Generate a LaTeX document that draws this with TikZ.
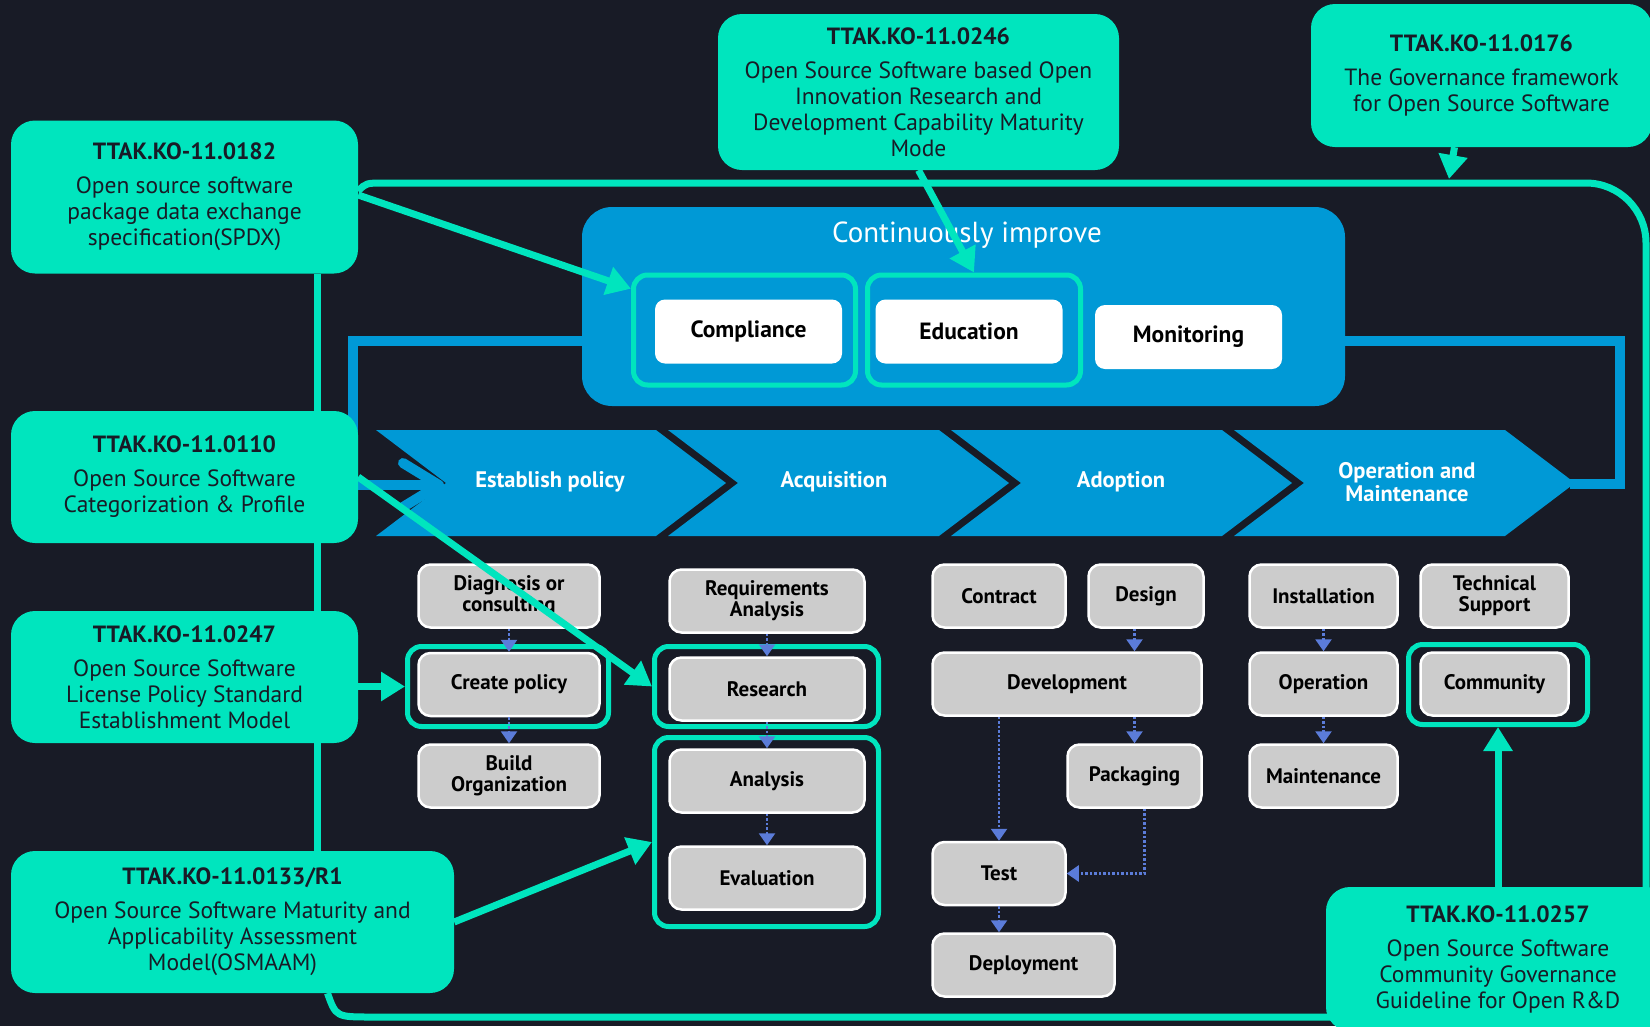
\documentclass[tikz,border=0pt]{standalone}
\usepackage{fontspec}
\setmainfont{PT Sans}
\usepackage{tikz}
\usetikzlibrary{arrows.meta}
\usetikzlibrary{calc}
\definecolor{night}{RGB}{24,27,38}
\definecolor{mint}{RGB}{0,229,190}
\definecolor{ocean}{RGB}{0,153,214}
\definecolor{stone}{RGB}{204,204,204}
\definecolor{dotblue}{RGB}{91,124,217}
\pgfdeclarelayer{back}
\pgfsetlayers{back,main}

\begin{document}
\begin{tikzpicture}[
	x=1pt, y=-1pt,
	standard/.style = {
		rectangle, rounded corners=24pt,
		fill=mint, text=night,
		align=center, inner sep=0pt,
		font=\fontsize{23.5}{26}\selectfont
	},
	task/.style = {
		rectangle, rounded corners=12pt,
		draw=white, line width=2.5pt, fill=stone,
		align=center, inner sep=0pt,
		minimum height=63pt,
		font=\fontsize{21}{21}\selectfont\bfseries
	},
	activity/.style = {
		rectangle, rounded corners=10pt,
		fill=white, inner sep=0pt,
		minimum width=187pt, minimum height=64pt,
		font=\fontsize{23.5}{26}\selectfont\bfseries
	},
	group/.style = {
		rectangle, rounded corners=14pt,
		draw=mint, line width=5pt
	},
	phase/.style = {
		text=white, align=center,
		font=\fontsize{22.5}{23}\selectfont\bfseries
	},
	flow/.style = {
		draw=dotblue, line width=2.5pt, dotted,
		-{Triangle[length=12pt,width=16pt]}
	},
	link/.style = {
		draw=mint, line width=7pt,
		-{Triangle[length=24pt,width=28pt]}
	},
	mintline/.style = {
		draw=mint, line width=7pt
	},
	backline/.style = {
		draw=ocean, line width=10pt
	}
]
	\useasboundingbox (0,0) rectangle (1650,1026);
	\begin{pgfonlayer}{back}
		\fill[night] (0,0) rectangle (1650,1026);
		% Life cycle
		\foreach \l/\t in {376/726, 668/1009, 951/1292, 1234/1575} {
			\fill[ocean] (\l,430) -- ({\t-70},430) -- (\t,483)
				-- ({\t-70},536) -- (\l,536) -- ({\l+70},483) -- cycle;
		}
	\end{pgfonlayer}
	\node[phase] (establish) at (550,482) {Establish policy};
	\node[phase] (acquisition) at (834,482) {Acquisition};
	\node[phase] (adoption) at (1121,482) {Adoption};
	\node[phase] (operate) at (1407,482) {Operation and\\Maintenance};
	\coordinate (notch) at (444,485);
	\coordinate (tipfour) at (1570,484);
	% Continuously improve
	\node[rectangle, rounded corners=30pt, fill=ocean,
		minimum width=763pt, minimum height=199pt] (improve) at (963.5,306.5) {};
	\node[text=white, font=\fontsize{29}{32}\selectfont] (improvetitle) at (967,235) {Continuously improve};
	\node[group, minimum width=222pt, minimum height=110pt] (gcomp) at (744.5,330) {};
	\node[group, minimum width=213pt, minimum height=110pt] (gedu) at (974,330) {};
	\node[activity] (compliance) at (748.5,331.5) {Compliance};
	\node[activity] (education) at (969,331.5) {Education};
	\node[activity] (monitoring) at (1188.5,337) {Monitoring};
	% Establish policy
	\node[group, minimum width=201pt, minimum height=80pt] (gcreate) at (508,686.5) {};
	\node[task, minimum width=181pt] (diagnosis) at (509,596) {Diagnosis or\\consulting};
	\node[task, minimum width=181pt] (create) at (509,684.5) {Create policy};
	\node[task, minimum width=181pt] (build) at (509,776) {Build\\Organization};
	% Acquisition
	\node[group, minimum width=224pt, minimum height=80pt] (gres) at (766.5,686.5) {};
	\node[group, minimum width=224pt, minimum height=189pt] (geval) at (766.5,832) {};
	\node[task, minimum width=195pt] (requirements) at (767,601) {Requirements\\Analysis};
	\node[task, minimum width=195pt] (research) at (767,689) {Research};
	\node[task, minimum width=195pt] (analysis) at (767,781) {Analysis};
	\node[task, minimum width=195pt] (evaluation) at (767,878) {Evaluation};
	% Adoption
	\node[task, minimum width=133pt] (contract) at (999,596) {Contract};
	\node[task, minimum width=115pt] (design) at (1146,596) {Design};
	\node[task, minimum width=269pt] (development) at (1067,684) {Development};
	\node[task, minimum width=134pt] (packaging) at (1134.5,776) {Packaging};
	\node[task, minimum width=133pt] (test) at (999,873.5) {Test};
	\node[task, minimum width=182pt] (deployment) at (1023.5,965) {Deployment};
	% Operation and Maintenance
	\node[group, minimum width=179pt, minimum height=80pt] (gcomm) at (1498,684.5) {};
	\node[task, minimum width=148pt] (installation) at (1323.5,596) {Installation};
	\node[task, minimum width=148pt] (operation) at (1323.5,684) {Operation};
	\node[task, minimum width=148pt] (maintenance) at (1323.5,776) {Maintenance};
	\node[task, minimum width=148pt] (support) at (1494.5,596) {Technical\\Support};
	\node[task, minimum width=148pt] (community) at (1494.5,684) {Community};
	% Task flow
	\draw[flow] (diagnosis.south) -- (create.north);
	\draw[flow] (create.south) -- (build.north);
	\draw[flow] (requirements.south) -- (research.north);
	\draw[flow] (research.south) -- (analysis.north);
	\draw[flow] (analysis.south) -- (evaluation.north);
	\draw[flow] (design.south -| packaging.north) -- (development.north -| packaging.north);
	\draw[flow] (development.south -| packaging.north) -- (packaging.north);
	\draw[flow] (development.south -| test.north) -- (test.north);
	\draw[flow] ($(packaging.south)+(10,0)$) |- (test.east);
	\draw[flow] (test.south) -- (deployment.north -| test.south);
	\draw[flow] (installation.south) -- (operation.north);
	\draw[flow] (operation.south) -- (maintenance.north);
	% Standards
	\node[standard, minimum width=347pt, minimum height=153pt] (std182) at (184.5,197)
		{\textbf{TTAK.KO-11.0182}\\[8pt]Open source software\\package data exchange\\specification(SPDX)};
	\node[standard, minimum width=347pt, minimum height=132pt] (std110) at (184.5,477)
		{\textbf{TTAK.KO-11.0110}\\[8pt]Open Source Software\\Categorization \& Profile};
	\node[standard, minimum width=347pt, minimum height=132pt] (std247) at (184.5,677)
		{\textbf{TTAK.KO-11.0247}\\[8pt]Open Source Software\\License Policy Standard\\Establishment Model};
	\node[standard, minimum width=443pt, minimum height=142pt] (std133) at (232.5,922)
		{\textbf{TTAK.KO-11.0133/R1}\\[8pt]Open Source Software Maturity and\\Applicability Assessment\\Model(OSMAAM)};
	\node[standard, minimum width=401pt, minimum height=156pt] (std246) at (918.5,92)
		{\textbf{TTAK.KO-11.0246}\\[8pt]Open Source Software based Open\\Innovation Research and\\Development Capability Maturity\\Mode};
	\node[standard, minimum width=341pt, minimum height=143pt] (std176) at (1481.5,75.5)
		{\textbf{TTAK.KO-11.0176}\\[8pt]The Governance framework\\for Open Source Software};
	\node[standard, minimum width=344pt, minimum height=144pt] (std257) at (1498,959)
		{\textbf{TTAK.KO-11.0257}\\[8pt]Open Source Software\\Community Governance\\Guideline for Open R\&D};
	\coordinate (govin) at (1449,179);
	% Loops behind the boxes
	\begin{pgfonlayer}{back}
		\draw[mintline] ($(std182.east)+(0,-6)$) .. controls (366,183) .. (385,183)
			-- (1586,183) arc[start angle=270, end angle=360, radius=60]
			-- (1646,957) arc[start angle=0, end angle=90, radius=60]
			-- (372,1017) .. controls (336,1017) .. ($(std133.south)+(95,0)$);
		\draw[mintline] ($(std182.south east)+(-41,0)$) -- ($(std133.north east)+(-137,0)$);
		\draw[backline, -{Straight Barb[length=36pt,width=44pt,round]}]
			($(improve.west)+(0,34)$) -| (353,485) -- (notch);
		\draw[backline] ($(improve.east)+(0,34)$) -| (1620,484) -- (tipfour);
	\end{pgfonlayer}
	% Standard links
	\draw[link] ($(std182.east)+(0,-2)$) -- (gcomp.160);
	\draw[link] (std246.south) -- (gedu.north);
	\draw[link] ($(std176.south)+(-27,0)$) -- (govin);
	\draw[link] (std110.east) -- (gres.west);
	\draw[link] (std247.east |- gcreate.west) -- (gcreate.west);
	\draw[link] (std133.east) -- (geval.185);
	\draw[link] (std257.north) -- (gcomm.south);
\end{tikzpicture}
\end{document}
